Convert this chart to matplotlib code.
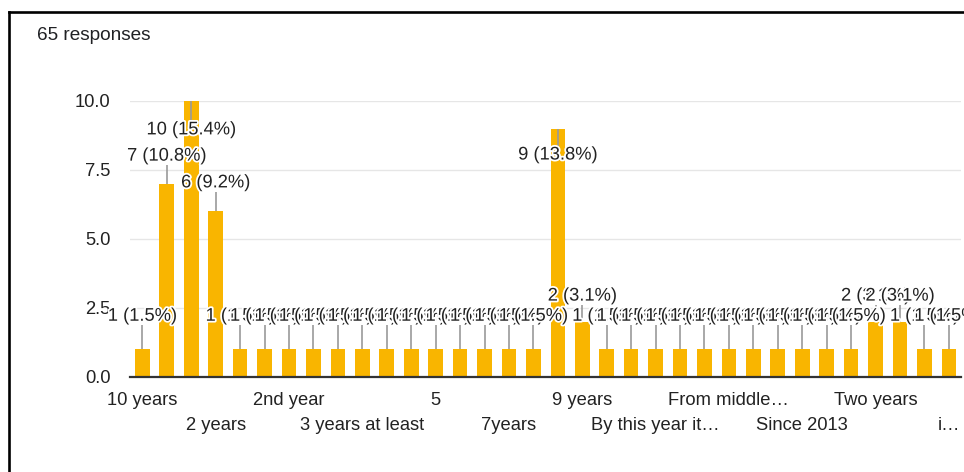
import numpy as np
import matplotlib.pyplot as plt
import matplotlib.patheffects as pe
from matplotlib.lines import Line2D

plt.rcParams['font.family'] = ['Liberation Sans', 'DejaVu Sans']

# responses per answer, in the order the form lists them
counts = [1, 7, 10, 6,
          1, 1, 1, 1, 1, 1, 1, 1, 1, 1, 1, 1, 1,
          9, 2,
          1, 1, 1, 1, 1, 1, 1, 1, 1, 1, 1,
          2, 2, 1, 1]
# only every third answer gets a label on the axis
tick_labels = ['10 years', '2 years', '2nd year', '3 years at least', '5',
               '7years', '9 years', 'By this year it\u2026', 'From middle\u2026',
               'Since 2013', 'Two years', 'i\u2026']
total = sum(counts)

# where each value label sits relative to the top of its bar
label_offset = {1: 1.2, 2: 0.93, 6: 1.03, 7: 1.0, 9: -0.96, 10: -1.05}

bar_color = '#f9b500'
text_color = '#222222'

fig = plt.figure(figsize=(9.64, 4.72), dpi=100)
ax = fig.add_axes([0.135, 0.2013, 0.862, 0.5849])

x = np.arange(len(counts))
ax.bar(x, counts, width=0.6, color=bar_color, zorder=2)

halo = [pe.withStroke(linewidth=2.6, foreground='white')]
for i, v in enumerate(counts):
    off = label_offset[v]
    ly = v + off
    end = ly - 0.33 if off > 0 else ly + 0.33
    ax.plot([i, i], [v, end], color='#9a9a9a', lw=1.2, zorder=3,
            solid_capstyle='butt', clip_on=False)
    ax.text(i, ly, f'{v} ({v / total * 100:.1f}%)', ha='center', va='center',
            fontsize=13.2, color=text_color, zorder=4, path_effects=halo)

ax.set_xlim(-0.5, len(counts) - 0.5)
ax.set_ylim(0, 10)
ax.set_yticks([0, 2.5, 5, 7.5, 10])
ax.set_yticklabels(['0.0', '2.5', '5.0', '7.5', '10.0'])
ax.yaxis.grid(True, color='#e6e6e6', lw=1, zorder=0)
ax.set_axisbelow(True)

pos = x[::3]
ax.set_xticks(pos[::2])
ax.set_xticklabels(tick_labels[::2])
ax.set_xticks(pos[1::2], minor=True)
ax.set_xticklabels(tick_labels[1::2], minor=True)
ax.tick_params(axis='x', which='major', length=0, pad=10.5, labelsize=13.2, labelcolor=text_color)
ax.tick_params(axis='x', which='minor', length=0, pad=28.5, labelsize=13.2, labelcolor=text_color)
ax.tick_params(axis='y', length=0, pad=14, labelsize=13.2, labelcolor=text_color)

for s in ['top', 'right', 'left']:
    ax.spines[s].set_visible(False)
ax.spines['bottom'].set_color('#333333')
ax.spines['bottom'].set_linewidth(1.6)
ax.spines['bottom'].set_zorder(5)

fig.text(37 / 964, 1 - 36 / 472, '65 responses', ha='left', va='center',
         fontsize=13.7, color='#202124')

# frame edges along the top and left
fig.add_artist(Line2D([9 / 964, 1], [1 - 12 / 472, 1 - 12 / 472], color='black', lw=1.9))
fig.add_artist(Line2D([9 / 964, 9 / 964], [0, 1 - 12 / 472], color='black', lw=1.9))

fig.savefig('out.png', dpi=100)
